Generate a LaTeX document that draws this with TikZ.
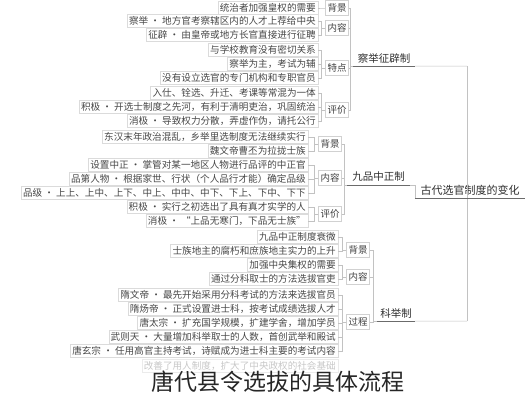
\documentclass[tikz,border=0pt]{standalone}
\usepackage{fontspec}
\setmainfont{Noto Sans CJK SC}
\usepackage{tikz}

\tikzset{
	leaf/.style={draw=black!14, anchor=east, inner xsep=2pt, inner ysep=1pt,
		minimum height=13pt, text=black!72, font=\fontsize{9.6}{10}\selectfont},
	sub/.style={draw=black!18, inner sep=2pt, minimum height=15pt,
		text=black!75, font=\fontsize{9.5}{10}\selectfont},
	branch/.style={inner sep=1pt, minimum height=16pt, text=black!82,
		font=\fontsize{10.5}{11}\selectfont},
	uline/.style={draw=black!58, line width=1pt},
	lbrk/.style={to path={-- ++(-4,0) |- (\tikztotarget)}},
	rbrk/.style={to path={-| (\tikztotarget)}}
}

\begin{document}
\begin{tikzpicture}[x=1pt,y=-1pt]
	\useasboundingbox (0,0) rectangle (525,400);

	% root and branches
	\node[branch, minimum width=110pt, font=\fontsize{11}{12}\selectfont] (root) at (470,190) {古代选官制度的变化};
	\node[branch, minimum width=62pt] (cj) at (384,58) {察举征辟制};
	\node[branch, minimum width=63pt] (jp) at (378.5,177) {九品中正制};
	\node[branch, minimum width=38pt] (kj) at (396,313) {科举制};
	\coordinate (tk1) at (467,66);
	\coordinate (tk3) at (467,321);

	\begin{scope}[every node/.style={sub}]
		\node (cjbg) at (337,8) {背景};
		\node (cjnr) at (337,28) {内容};
		\node (cjtd) at (337,68) {特点};
		\node (cjpj) at (337,110) {评价};
		\node (jpbg) at (330,144) {背景};
		\node (jpnr) at (330,178) {内容};
		\node (jppj) at (330,214) {评价};
		\node (kjbg) at (358,250) {背景};
		\node (kjnr) at (358,277) {内容};
		\node (kjgc) at (358,322) {过程};
	\end{scope}

	\begin{scope}[every node/.style={leaf}]
		% 察举征辟制
		\node (cjbgA) at (318,8) {统治者加强皇权的需要};
		\node (cjnrA) at (318,21) {察举 · 地方官考察辖区内的人才上荐给中央};
		\node (cjnrB) at (318,35) {征辟 · 由皇帝或地方长官直接进行征聘};
		\node (cjtdA) at (318,50) {与学校教育没有密切关系};
		\node (cjtdB) at (318,64) {察举为主，考试为辅};
		\node (cjtdC) at (318,78) {没有设立选官的专门机构和专职官员};
		\node (cjpjA) at (318,93) {入仕、铨选、升迁、考课等常混为一体};
		\node (cjpjB) at (318,107) {积极 · 开选士制度之先河，有利于清明吏治，巩固统治};
		\node (cjpjC) at (318,121) {消极 · 导致权力分散，弄虚作伪，请托公行};
		% 九品中正制
		\node (jpbgA) at (308,137) {东汉末年政治混乱，乡举里选制度无法继续实行};
		\node (jpbgB) at (308,151) {魏文帝曹丕为拉拢士族};
		\node (jpnrA) at (308,165) {设置中正 · 掌管对某一地区人物进行品评的中正官};
		\node (jpnrB) at (308,179) {品第人物 · 根据家世、行状（个人品行才能）确定品级};
		\node (jpnrC) at (308,193) {品级 · 上上、上中、上下、中上、中中、中下、下上、下中、下下};
		\node (jppjA) at (308,207) {积极 · 实行之初选出了具有真才实学的人};
		\node (jppjB) at (308,221) {消极 · “上品无寒门，下品无士族”};
		% 科举制
		\node (kjbgA) at (338,237) {九品中正制度衰微};
		\node (kjbgB) at (338,251) {士族地主的腐朽和庶族地主实力的上升};
		\node (kjnrA) at (338,265) {加强中央集权的需要};
		\node (kjnrB) at (338,279) {通过分科取士的方法选拔官吏};
		\node (kjgcA) at (338,295) {隋文帝 · 最先开始采用分科考试的方法来选拔官员};
		\node (kjgcB) at (338,309) {隋炀帝 · 正式设置进士科，按考试成绩选拔人才};
		\node (kjgcC) at (338,323) {唐太宗 · 扩充国学规模，扩建学舍，增加学员};
		\node (kjgcD) at (338,337) {武则天 · 大量增加科举取士的人数，首创武举和殿试};
		\node (kjgcE) at (338,351) {唐玄宗 · 任用高官主持考试，诗赋成为进士科主要的考试内容};
		\node[draw=black!8, text=black!22] (kjxA) at (338,366) {改善了用人制度，扩大了中央政权的社会基础};
	\end{scope}

	\begin{scope}[every edge/.style={draw=black!24, line width=.5pt}]
		\path (cj.south west) -- ++(-3,0) coordinate (cjk);
		\path (jp.south west) -- ++(-3,0) coordinate (jpk);
		\path (kj.south west) -- ++(-4,0) coordinate (kjk);
		\path (cj.south east) edge (tk1) (tk1) edge (tk3) (tk3) edge (kj.south east);
		\path (jp.south east) edge[rbrk] (root.south west);
		\path (cjk) edge (cj.south west) (jpk) edge (jp.south west) (kjk) edge (kj.south west);
		\path (cjbg.east) edge[rbrk] (cjk) (cjnr.east) edge[rbrk] (cjk)
			(cjtd.east) edge[rbrk] (cjk) (cjpj.east) edge[rbrk] (cjk);
		\path (jpbg.east) edge[rbrk] (jpk) (jpnr.east) edge[rbrk] (jpk) (jppj.east) edge[rbrk] (jpk);
		\path (kjbg.east) edge[rbrk] (kjk) (kjnr.east) edge[rbrk] (kjk) (kjgc.east) edge[rbrk] (kjk);
		\path (cjbg.west) edge[lbrk] (cjbgA.east);
		\path (cjnr.west) edge[lbrk] (cjnrA.east) edge[lbrk] (cjnrB.east);
		\path (cjtd.west) edge[lbrk] (cjtdA.east) edge[lbrk] (cjtdB.east) edge[lbrk] (cjtdC.east);
		\path (cjpj.west) edge[lbrk] (cjpjA.east) edge[lbrk] (cjpjB.east) edge[lbrk] (cjpjC.east);
		\path (jpbg.west) edge[lbrk] (jpbgA.east) edge[lbrk] (jpbgB.east);
		\path (jpnr.west) edge[lbrk] (jpnrA.east) edge[lbrk] (jpnrB.east) edge[lbrk] (jpnrC.east);
		\path (jppj.west) edge[lbrk] (jppjA.east) edge[lbrk] (jppjB.east);
		\path (kjbg.west) edge[lbrk] (kjbgA.east) edge[lbrk] (kjbgB.east);
		\path (kjnr.west) edge[lbrk] (kjnrA.east) edge[lbrk] (kjnrB.east);
		\path (kjgc.west) edge[lbrk] (kjgcA.east) edge[lbrk] (kjgcB.east) edge[lbrk] (kjgcC.east)
			edge[lbrk] (kjgcD.east) edge[lbrk] (kjgcE.east);
	\end{scope}

	% underlines
	\draw[uline] (root.south west) -- (root.south east);
	\draw[uline] (cj.south west) -- (cj.south east);
	\draw[uline] (jp.south west) -- (jp.south east);
	\draw[uline] (kj.south west) -- (kj.south east);

	\node[font=\fontsize{23}{24}\selectfont, text=black!85] (title) at (278,382) {唐代县令选拔的具体流程};
\end{tikzpicture}
\end{document}
